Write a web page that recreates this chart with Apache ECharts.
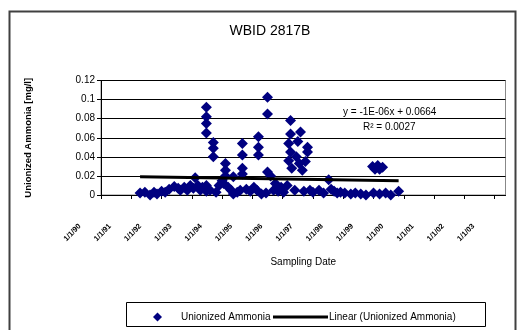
<!DOCTYPE html>
<html>
<head>
<meta charset="utf-8">
<script src="https://cdn.jsdelivr.net/npm/echarts@6/dist/echarts.min.js"></script>
<style>html,body{margin:0;padding:0;background:#fff}#c{width:520px;height:330px}</style>
</head>
<body>
<div id="c"></div>
<script>
// x positions are in tick-interval units (0 = first tick label)
const tickLabels = ['1/1/90','1/1/91','1/1/92','1/1/93','1/1/94','1/1/95','1/1/96','1/1/97','1/1/98','1/1/99','1/1/00','1/1/01','1/1/02','1/1/03'];
const sampleX = [1.29,1.45,1.62,1.75,1.85,2.0,2.12,2.25,2.42,2.55,2.62,2.75,2.85,2.95,3.05,3.11,3.2,3.28,3.35,
  3.48,3.48,3.48,3.48,3.48,3.48,3.6,3.71,3.71,3.71,3.8,3.9,4.0,4.11,4.11,4.11,4.05,4.2,4.37,4.37,4.3,4.5,
  4.67,4.67,4.67,4.67,4.6,4.8,4.93,5.05,5.2,5.2,5.2,5.15,5.3,5.5,5.5,5.5,5.45,5.6,5.7,5.76,5.85,5.95,6.03,
  6.26,6.26,6.2,6.26,6.2,6.3,6.15,6.4,6.59,6.5,6.45,6.55,6.65,6.82,6.82,6.75,6.9,6.7,7.0,7.2,7.35,7.52,7.6,
  7.7,7.8,7.91,8.05,8.25,8.4,8.58,8.75,8.97,9.14,9.30,9.05,9.2,9.0,9.2,9.4,9.57,9.83];
const ammonia = [0.002,0.003,0.0,0.003,0.001,0.004,0.003,0.006,0.009,0.007,0.005,0.008,0.005,0.01,0.007,0.018,0.01,0.005,0.008,
  0.092,0.082,0.075,0.065,0.01,0.004,0.005,0.055,0.049,0.040,0.003,0.01,0.015,0.033,0.026,0.02,0.012,0.008,0.019,0.001,0.005,0.003,
  0.054,0.042,0.028,0.022,0.005,0.006,0.004,0.008,0.061,0.050,0.042,0.005,0.001,0.1025,0.085,0.024,0.002,0.02,0.005,0.012,0.004,0.008,0.003,
  0.078,0.064,0.054,0.045,0.036,0.028,0.01,0.005,0.066,0.056,0.04,0.033,0.026,0.050,0.045,0.035,0.005,0.004,0.003,0.005,0.002,0.016,0.006,
  0.004,0.002,0.003,0.002,0.001,0.002,0.001,0.0,0.030,0.031,0.029,0.027,0.027,0.002,0.001,0.002,0.0,0.004];
const trendX = [1.29, 9.83];
const trendY = [0.019, 0.0149];
const yTicks = [0, 0.02, 0.04, 0.06, 0.08, 0.1, 0.12];

const chart = echarts.init(document.getElementById('c'));
const font = 'Liberation Sans, Arial, sans-serif';
chart.setOption({
  animation: false,
  backgroundColor: '#fff',
  title: {
    text: 'WBID 2817B', left: 265, top: 19, textAlign: 'center',
    textStyle: {fontFamily: font, fontSize: 14, fontWeight: 'normal', color: '#000'}
  },
  grid: {left: 101, top: 80.5, right: 14.5, bottom: 135, show: true, borderColor: '#888', borderWidth: 1, backgroundColor: '#fff'},
  xAxis: {
    type: 'value', min: 0, max: 13.36, interval: 1,
    name: 'Sampling Date', nameLocation: 'middle', nameGap: 62,
    nameTextStyle: {fontFamily: font, fontSize: 10, color: '#000'},
    axisLine: {lineStyle: {color: '#000', width: 1}},
    axisTick: {show: true, length: 4, lineStyle: {color: '#000'}},
    splitLine: {show: false},
    axisLabel: {
      rotate: 45, margin: 9, fontFamily: font, fontSize: 7.5, fontWeight: 'bold', color: '#000',
      padding: [0, 30, 0, 0], showMaxLabel: false,
      formatter: v => tickLabels[Math.round(v)] || ''
    }
  },
  yAxis: {
    type: 'value', min: yTicks[0], max: yTicks[yTicks.length - 1], interval: 0.02,
    name: 'Unionized Ammonia [mg/l]', nameLocation: 'middle', nameGap: 68, nameRotate: 90,
    nameTextStyle: {fontFamily: font, fontSize: 9.5, fontWeight: 'bold', color: '#000'},
    axisLine: {show: true, lineStyle: {color: '#000', width: 1}},
    axisTick: {show: true, length: 4, lineStyle: {color: '#000'}},
    splitLine: {show: true, lineStyle: {color: '#000', width: 1}},
    axisLabel: {fontFamily: font, fontSize: 10, color: '#000', margin: 6}
  },
  legend: [
    {data: [{name: 'Unionized Ammonia', icon: 'diamond'}], left: 148, top: 307, itemWidth: 9, itemHeight: 9,
     itemStyle: {opacity: 1},
     textStyle: {fontFamily: font, fontSize: 10, color: '#000', padding: [0, 0, 0, 14]}},
    {data: [{name: 'Linear (Unionized Ammonia)', icon: 'rect'}], left: 268, top: 307, itemWidth: 55, itemHeight: 3,
     textStyle: {fontFamily: font, fontSize: 10, color: '#000', padding: [0, 0, 0, -4]}}
  ],
  graphic: [
    {type: 'rect', left: 7, top: 9, shape: {width: 506, height: 330}, style: {fill: 'none', stroke: '#404040', lineWidth: 2}, silent: true},
    {type: 'rect', left: 124, top: 300, shape: {width: 359, height: 24}, style: {fill: 'none', stroke: '#000', lineWidth: 1}, silent: true, z: -1},
    {type: 'text', left: 343, top: 107, style: {text: 'y = -1E-06x + 0.0664', fontFamily: font, fontSize: 10, fill: '#000'}},
    {type: 'text', left: 363, top: 122, style: {text: 'R² = 0.0027', fontFamily: font, fontSize: 10, fill: '#000'}}
  ],
  series: [
    {
      name: 'Unionized Ammonia', type: 'scatter', symbol: 'diamond', symbolSize: 11,
      itemStyle: {color: '#000080', opacity: 1},
      data: sampleX.map((x, i) => [x, ammonia[i]]), z: 2
    },
    {
      name: 'Linear (Unionized Ammonia)', type: 'line', symbol: 'none',
      lineStyle: {color: '#000', width: 3}, itemStyle: {color: '#000'},
      data: trendX.map((x, i) => [x, trendY[i]]), z: 3
    }
  ]
});
</script>
</body>
</html>
